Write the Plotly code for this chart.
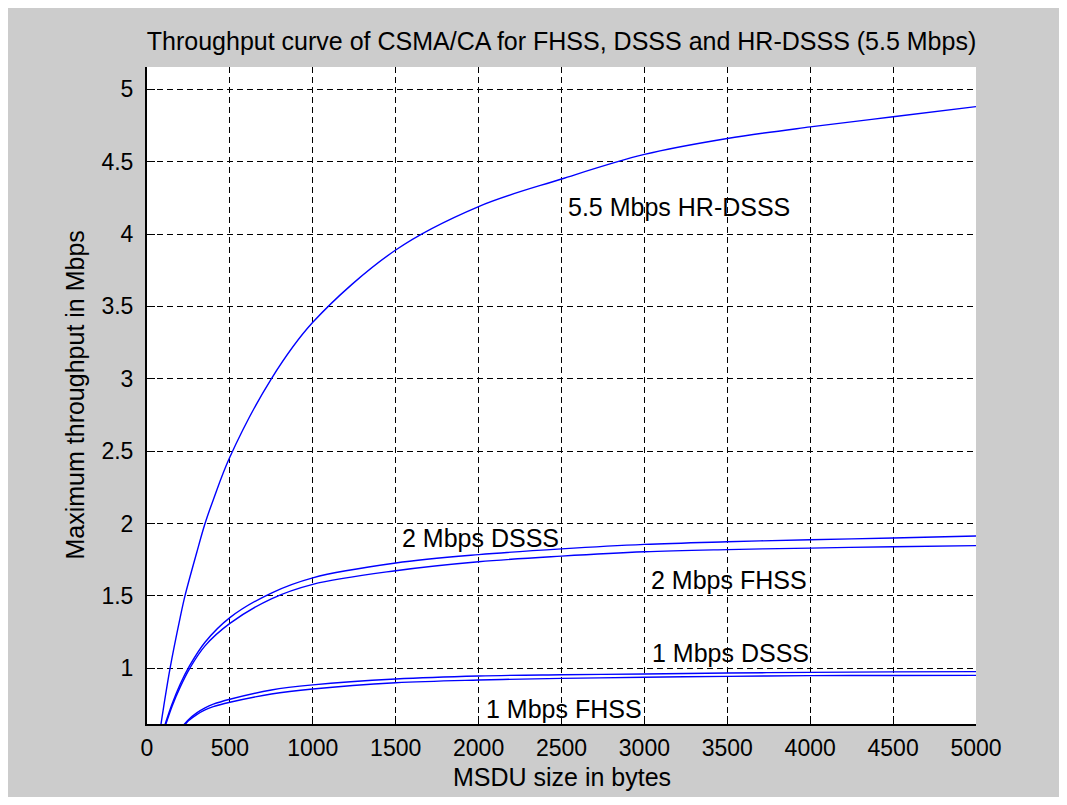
import plotly.graph_objects as go

# ---- data ----
hr55_x = [80, 100, 139, 200, 229, 300, 350, 400, 500, 750, 1000, 1500, 2000, 2500, 3000, 3500, 4000, 4500, 5000]
hr55_y = [0.58, 0.73, 1.00, 1.35, 1.50, 1.80, 2.00, 2.165, 2.46, 3.00, 3.39, 3.89, 4.19, 4.38, 4.55, 4.66, 4.74, 4.81, 4.88]

dsss2_x = [100, 150, 200, 253, 350, 500, 750, 1000, 1500, 2000, 2500, 3000, 3500, 4000, 4500, 5000]
dsss2_y = [0.58, 0.75, 0.89, 1.01, 1.18, 1.35, 1.52, 1.625, 1.727, 1.785, 1.825, 1.856, 1.874, 1.888, 1.90, 1.914]

fhss2_x = [104, 152, 200, 258, 350, 500, 750, 1000, 1500, 2000, 2500, 3000, 3500, 4000, 4500, 5000]
fhss2_y = [0.58, 0.74, 0.87, 1.00, 1.155, 1.31, 1.48, 1.58, 1.674, 1.736, 1.775, 1.805, 1.82, 1.83, 1.84, 1.847]

dsss1_x = [215, 250, 300, 350, 400, 500, 750, 1000, 1500, 2000, 2500, 3000, 3500, 4000, 4500, 5000]
dsss1_y = [0.60, 0.645, 0.692, 0.727, 0.752, 0.786, 0.85, 0.885, 0.926, 0.947, 0.955, 0.96, 0.967, 0.972, 0.975, 0.977]

fhss1_x = [222, 250, 300, 350, 400, 500, 750, 1000, 1500, 2000, 2500, 3000, 3500, 4000, 4500, 5000]
fhss1_y = [0.60, 0.637, 0.68, 0.712, 0.735, 0.765, 0.822, 0.857, 0.90, 0.919, 0.93, 0.938, 0.944, 0.949, 0.95, 0.951]

label_text = ["5.5 Mbps HR-DSSS", "2 Mbps DSSS", "2 Mbps FHSS", "1 Mbps DSSS", "1 Mbps FHSS"]
label_x = [2530, 1525, 3025, 3035, 2035]
label_y = [4.19, 1.90, 1.613, 1.109, 0.719]

x_ticks = [0, 500, 1000, 1500, 2000, 2500, 3000, 3500, 4000, 4500, 5000]
x_ticktext = ["0", "500", "1000", "1500", "2000", "2500", "3000", "3500", "4000", "4500", "5000"]
y_ticks = [1, 1.5, 2, 2.5, 3, 3.5, 4, 4.5, 5]
y_ticktext = ["1", "1.5", "2", "2.5", "3", "3.5", "4", "4.5", "5"]

title_text = "Throughput curve of CSMA/CA for FHSS, DSSS and HR-DSSS (5.5 Mbps)"
x_title = "MSDU size in bytes"
y_title = "Maximum throughput in Mbps"

# ---- layout geometry (page body adds an 8px margin) ----
W, H = 1051, 789
ML, MR, MT, MB = 139, 83, 59, 73
FONT = "Liberation Sans, Arial, sans-serif"
BLUE = "#0000ff"
INK = "#000000"

fig = go.Figure()
for xs, ys in [(hr55_x, hr55_y), (dsss2_x, dsss2_y), (fhss2_x, fhss2_y),
               (dsss1_x, dsss1_y), (fhss1_x, fhss1_y)]:
    fig.add_trace(go.Scatter(x=xs, y=ys, mode="lines",
                             line=dict(color=BLUE, width=1.4, shape="spline", smoothing=1.0),
                             showlegend=False, hoverinfo="skip"))

for t, x, y in zip(label_text, label_x, label_y):
    fig.add_annotation(x=x, y=y, xref="x", yref="y", text=t, showarrow=False,
                       xanchor="left", yanchor="middle",
                       font=dict(family=FONT, size=25, color=INK))

# axis titles as annotations
fig.add_annotation(x=0.5, y=0, xref="paper", yref="paper", text=x_title, showarrow=False,
                   xanchor="center", yanchor="middle", yshift=-53,
                   font=dict(family=FONT, size=25, color=INK))
fig.add_annotation(x=0, y=0.5, xref="paper", yref="paper", text=y_title, showarrow=False,
                   textangle=-90, xanchor="center", yanchor="middle", xshift=-73,
                   font=dict(family=FONT, size=25, color=INK))

grid_common = dict(showgrid=True, gridcolor="black", gridwidth=1, griddash="6px,4px",
                   zeroline=False, ticks="inside", ticklen=8, tickcolor="black",
                   tickwidth=1, showline=True, linecolor="black", linewidth=2,
                   mirror=False, tickfont=dict(family=FONT, size=23, color=INK))

fig.update_xaxes(range=[0, 5000], tickmode="array", tickvals=x_ticks, ticktext=x_ticktext,
                 ticklabelstandoff=2, **grid_common)
fig.update_yaxes(range=[0.615, 5.154], tickmode="array", tickvals=y_ticks, ticktext=y_ticktext,
                 ticklabelstandoff=7, **grid_common)

fig.update_layout(
    width=W, height=H,
    margin=dict(l=ML, r=MR, t=MT, b=MB, autoexpand=False),
    paper_bgcolor="#cccccc", plot_bgcolor="white",
    title=dict(text=title_text, x=0.5, xref="paper", y=1 - 33 / H, yref="container",
               xanchor="center", yanchor="middle",
               font=dict(family=FONT, size=25, color=INK)),
)

fig.write_html("out.html")
